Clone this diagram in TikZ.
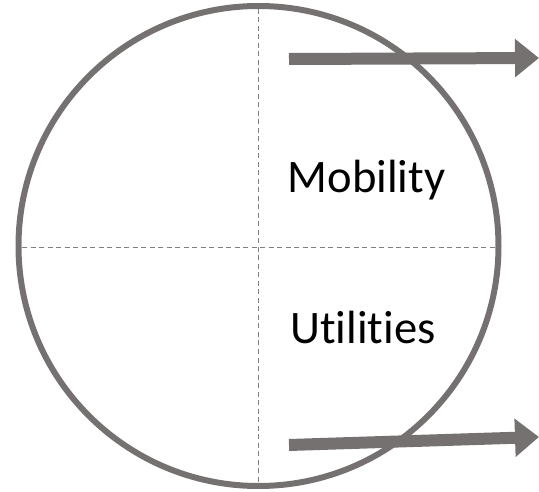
\documentclass[tikz,border=0pt]{standalone}
\usepackage{fontspec}
\setmainfont[Ligatures={NoCommon,NoRare,NoDiscretionary}]{Carlito}
\usetikzlibrary{arrows.meta}
\definecolor{ringgray}{RGB}{118,113,113}
\definecolor{dashgray}{RGB}{128,128,128}
\tikzset{
  ring/.style={circle, draw=ringgray, line width=6pt, minimum size=480pt, inner sep=0pt},
  guide/.style={draw=dashgray, line width=0.9pt, dash pattern=on 5pt off 3.5pt},
  bigarrow/.style={draw=ringgray, line width=12pt, -{Triangle[length=24pt,width=37pt]}},
  label/.style={font=\fontsize{46.6}{56}\selectfont, anchor=base, inner sep=0pt}
}
\begin{document}
\begin{tikzpicture}[x=1pt,y=-1pt]
\useasboundingbox (0,0) rectangle (539,492);
\node[ring] (c) at (258.5,246) {};
\coordinate (vt) at (258.5,9);
\coordinate (vb) at (258.5,483);
\coordinate (hl) at (22,247.5);
\coordinate (hr) at (495,247.5);
\draw[guide] (vt) -- (vb);
\draw[guide] (hl) -- (hr);
\node[label] (mob) at (366.5,193) {Mobility};
\node[label] (uti) at (363,343) {Utilities};
\coordinate (a1s) at (289,59);
\coordinate (a1e) at (539,58);
\coordinate (a2s) at (289,445);
\coordinate (a2e) at (539,437);
\draw[bigarrow] (a1s) -- (a1e);
\draw[bigarrow] (a2s) -- (a2e);
\end{tikzpicture}
\end{document}
